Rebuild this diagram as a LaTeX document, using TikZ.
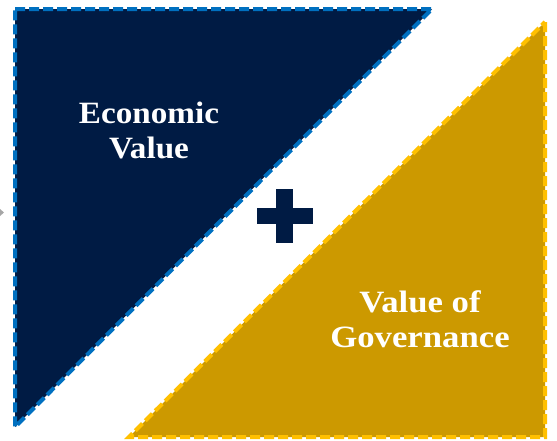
\documentclass[tikz,border=0pt]{standalone}
\usepackage{fontspec}
\setmainfont{Liberation Serif}
\usetikzlibrary{positioning}
\definecolor{DeepNavy}{HTML}{001B44}
\definecolor{EdgeBlue}{HTML}{0070C0}
\definecolor{DarkGold}{HTML}{CC9900}
\definecolor{EdgeGold}{HTML}{FFC000}

\begin{document}
\begin{tikzpicture}[
x=1pt,y=-1pt,
tri/.style={line width=4pt,dash pattern=on 10pt off 4pt,line join=miter},
lbl/.style={text=white,font=\bfseries\fontsize{31}{35}\selectfont,align=center,inner sep=0pt}
]
\useasboundingbox (0,0) rectangle (557,440);
% two halves of the square
\draw[tri,fill=DeepNavy,draw=EdgeBlue] (15,9) -- (432,9) -- (15,427) -- cycle;
\draw[tri,fill=DarkGold,draw=EdgeGold] (545,22) -- (545,437) -- (129,437) -- cycle;
% plus sign between them
\fill[DeepNavy] (276,189) rectangle (293,243);
\fill[DeepNavy] (257,208) rectangle (313,224);
% small grey tip on the left edge
\fill[gray!70] (0,209) -- (4,212.5) -- (0,216) -- cycle;
\node[lbl,xscale=1.07] (econ) at (149,130) {Economic\\Value};
\node[lbl,xscale=1.12] (gov) at (420,319) {Value of\\Governance};
\end{tikzpicture}
\end{document}
